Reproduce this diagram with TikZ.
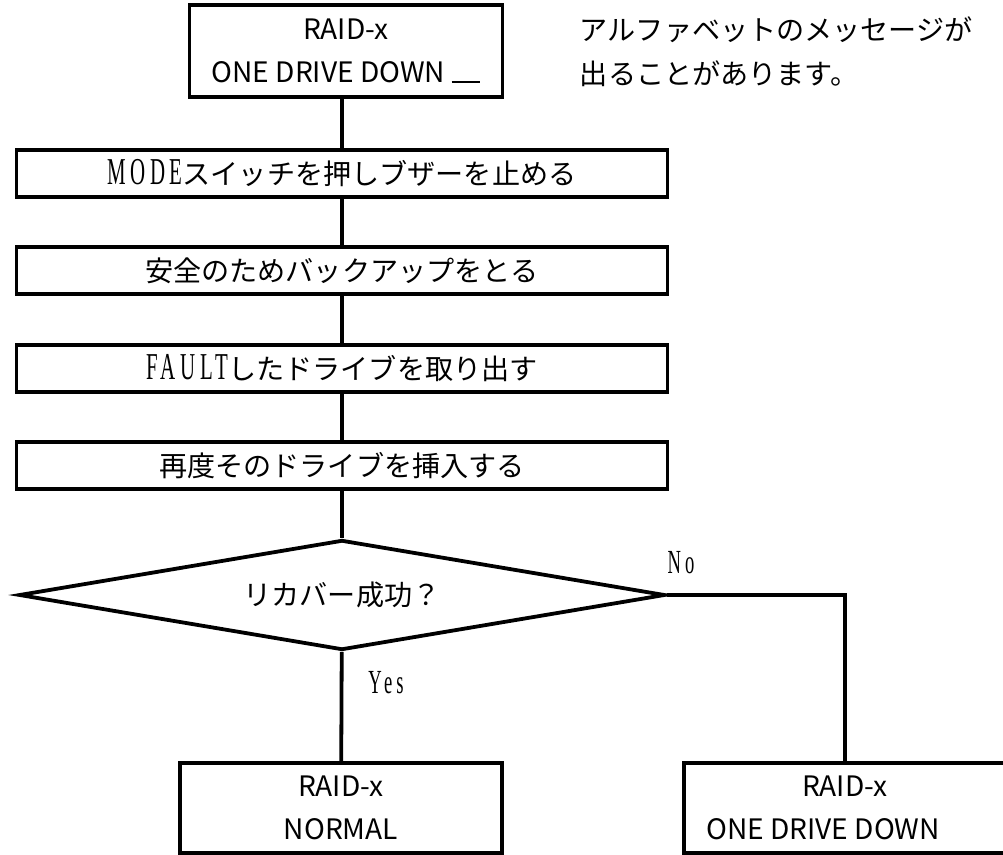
\documentclass[tikz,border=0pt]{standalone}
\usepackage{fontspec}
\setmainfont{Noto Sans CJK JP}
\newfontfamily\condserif[FakeStretch=0.55,LetterSpace=12]{Liberation Serif}
\usepackage{tikz}
\usetikzlibrary{positioning, shapes.geometric}
\newcommand{\ltn}[1]{{\condserif\fontsize{27}{27}\selectfont #1}}

\begin{document}
\begin{tikzpicture}
    [
        x=0.025cm, y=-0.025cm, line width=2.7pt,
        every node/.style={font=\fontsize{20}{31}\selectfont},
        box_node/.style={rectangle, draw=black, inner sep=0pt, align=center},
        step_node/.style={box_node, minimum width=16.275cm, minimum height=1.175cm},
        end_node/.style={box_node, minimum width=8.05cm, minimum height=2.25cm},
        ask_node/.style={diamond, draw=black, shape aspect=6, inner sep=0pt, minimum width=16.15cm, minimum height=2.75cm},
        lbl_node/.style={inner sep=0pt, font=\condserif\fontsize{24}{24}\selectfont},
    ]

  \useasboundingbox (0,0) rectangle (1003,854);

  \node[box_node, minimum width=7.825cm, minimum height=2.3cm] (A) at (346,51) {RAID-x\\ONE DRIVE DOWN \rule{0.72cm}{1.4pt}};
  \node[anchor=west, align=left, inner sep=0pt] (N) at (578,52) {アルファベットのメッセージが\\出ることがあります。};
  \node[step_node] (B) at (342,173.5) {\ltn{MODE}スイッチを押しブザーを止める};
  \node[step_node] (C) at (342,270.5) {安全のためバックアップをとる};
  \node[step_node] (D) at (342,368.5) {\ltn{FAULT}したドライブを取り出す};
  \node[step_node] (E) at (342,465.5) {再度そのドライブを挿入する};
  \node[ask_node] (F) at (342,595) {リカバー成功？};
  \node[end_node] (G) at (341,808) {RAID-x\\NORMAL};
  \node[end_node, minimum width=8.05cm] (H) at (845,808) {RAID-x\\ONE DRIVE DOWN\hspace*{1.1cm}};
  \node[lbl_node] (Y) at (386,683) {Yes};
  \node[lbl_node] (No) at (681,563) {No};

  \draw (A.south -| B) -- (B);
  \draw (B) -- (C);
  \draw (C) -- (D);
  \draw (D) -- (E);
  \draw (E) -- (F);
  \draw (F) -- (G);
  \draw (F) -| (H);
\end{tikzpicture}
\end{document}
